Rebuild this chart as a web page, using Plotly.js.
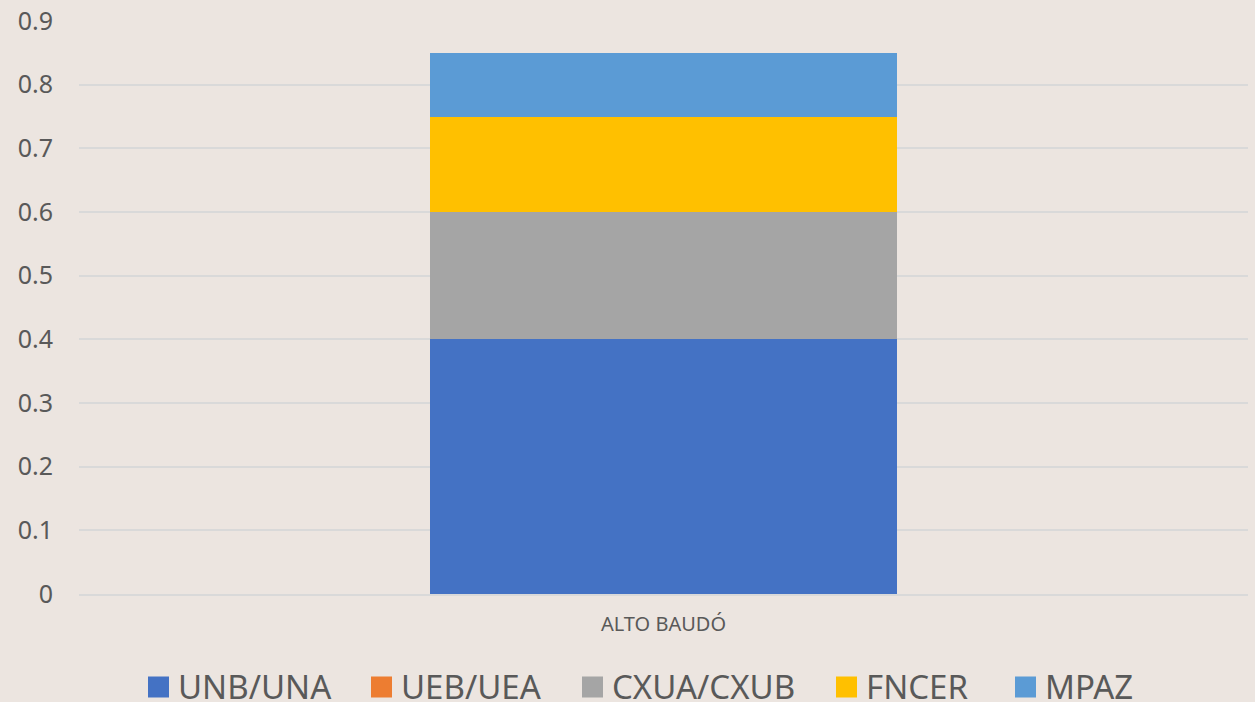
<!DOCTYPE html>
<html>
<head>
<meta charset="utf-8">
<script src="https://cdn.plot.ly/plotly-3.0.1.min.js"></script>
<style>html,body{margin:0;padding:0;background:#ECE5E0;}#chart{width:1255px;height:702px;}</style>
</head>
<body>
<div id="chart"></div>
<script>
const categories = ["ALTO BAUDÓ"];
const seriesNames = ["UNB/UNA", "UEB/UEA", "CXUA/CXUB", "FNCER", "MPAZ"];
const unbUna = [0.4];
const uebUea = [0];
const cxuaCxub = [0.2];
const fncer = [0.15];
const mpaz = [0.1];
const seriesValues = [unbUna, uebUea, cxuaCxub, fncer, mpaz];
const seriesColors = ["#4472C4", "#ED7D31", "#A5A5A5", "#FFC000", "#5B9BD5"];

const W = 1255, H = 702;
const M = {l: 79, r: 7, t: 21, b: 108};
const plotW = W - M.l - M.r, plotH = H - M.t - M.b;
const toPaperX = px => (px - M.l) / plotW;
const toPaperY = py => (H - M.b - py) / plotH;

const traces = seriesNames.map((name, i) => ({
  type: "bar",
  name: name,
  x: categories,
  y: seriesValues[i],
  marker: {color: seriesColors[i]},
  hoverinfo: "name+y",
  showlegend: false
}));

// custom legend (layout positions in pixels)
const legendLeft = [148, 371, 582, 836, 1015];
const swatch = 21, textGap = 10, legendCenterY = 687;
const shapes = [];
const annotations = [];
seriesNames.forEach((name, i) => {
  shapes.push({
    type: "rect", xref: "paper", yref: "paper",
    xsizemode: "pixel", ysizemode: "pixel",
    xanchor: toPaperX(legendLeft[i]), yanchor: toPaperY(legendCenterY),
    x0: 0, x1: swatch, y0: -swatch / 2, y1: swatch / 2,
    fillcolor: seriesColors[i], line: {width: 0}
  });
  annotations.push({
    xref: "paper", yref: "paper",
    x: toPaperX(legendLeft[i] + swatch + textGap - 2), y: toPaperY(legendCenterY - 1),
    xanchor: "left", yanchor: "middle",
    text: name, showarrow: false, borderpad: 0,
    font: {size: 33, color: "#595959", family: "Noto Sans, sans-serif"}
  });
});

const layout = {
  width: W,
  height: H,
  barmode: "stack",
  bargap: 0.6,
  paper_bgcolor: "#ECE5E0",
  plot_bgcolor: "#ECE5E0",
  margin: M,
  font: {family: "Noto Sans, Open Sans, sans-serif", color: "#595959"},
  xaxis: {
    showgrid: false,
    showline: true,
    linecolor: "#D9D9D9",
    linewidth: 2,
    ticks: "outside",
    ticklen: 11,
    tickcolor: "rgba(0,0,0,0)",
    tickfont: {size: 20, color: "#595959"}
  },
  yaxis: {
    range: [0, 0.9],
    dtick: 0.1,
    tickformat: ".1~f",
    showgrid: true,
    gridcolor: "#D9D9D9",
    gridwidth: 2,
    zeroline: false,
    ticks: "outside",
    ticklen: 20,
    tickcolor: "rgba(0,0,0,0)",
    tickfont: {size: 25, color: "#595959"}
  },
  showlegend: false,
  shapes: shapes,
  annotations: annotations
};

Plotly.newPlot("chart", traces, layout, {displayModeBar: false, staticPlot: true});
</script>
</body>
</html>
